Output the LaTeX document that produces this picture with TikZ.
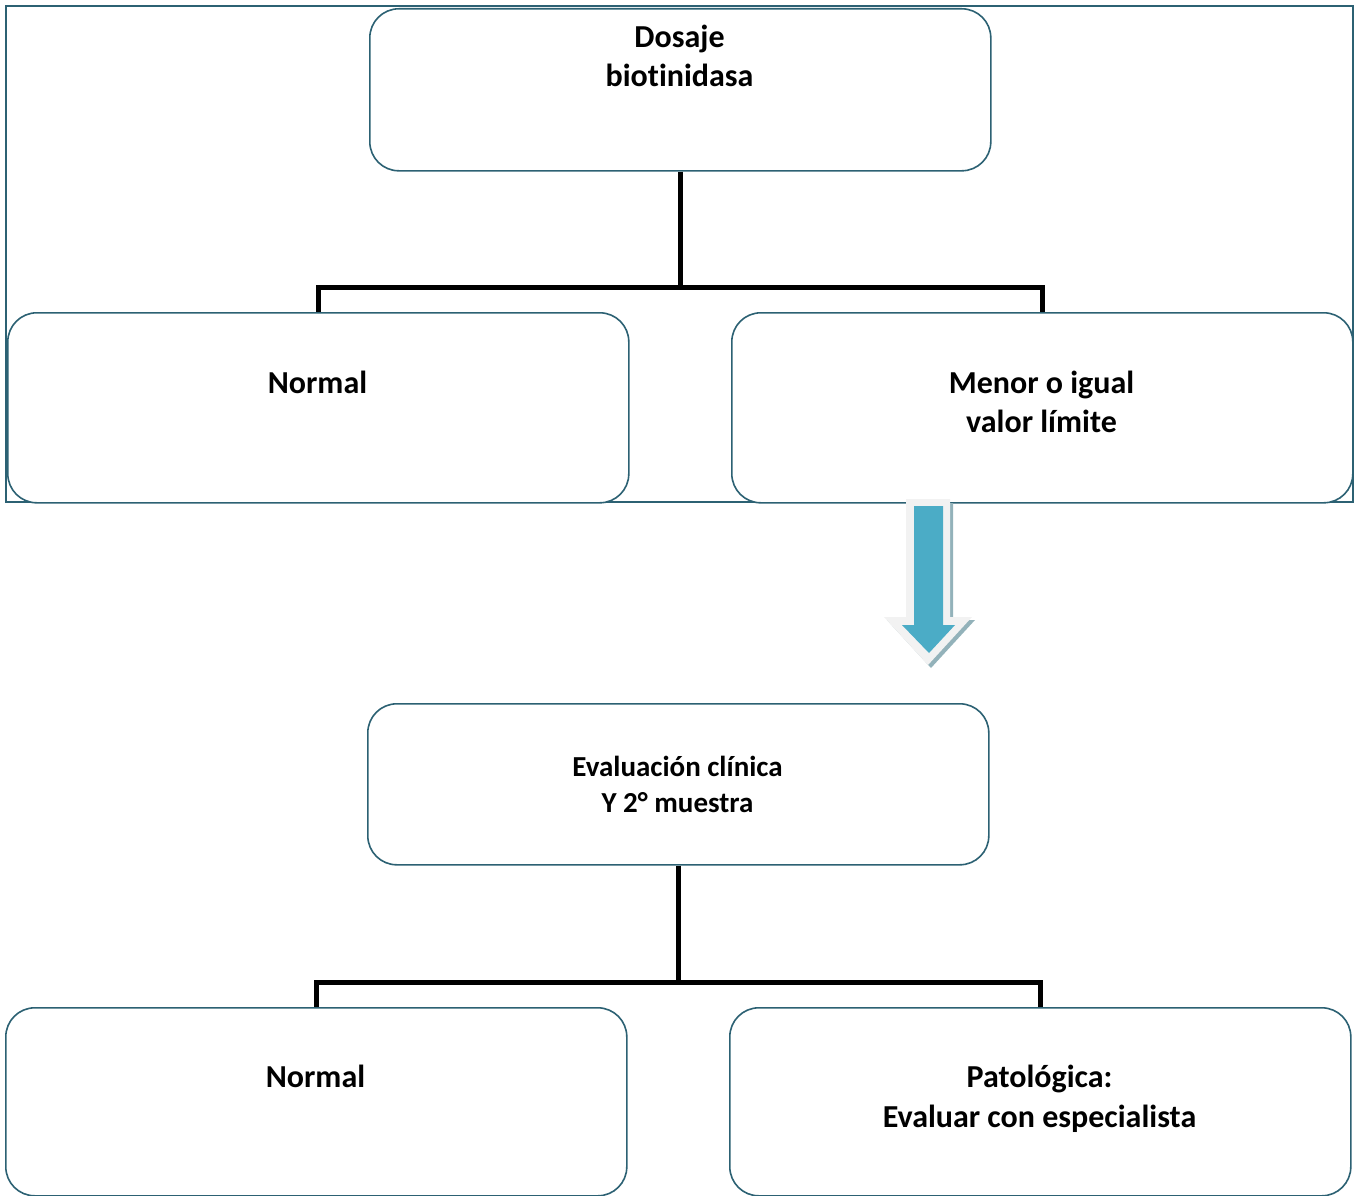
\documentclass[tikz,border=0pt]{standalone}
\usepackage{fontspec}
\setmainfont{Carlito}[Ligatures={NoCommon}]
\definecolor{boxline}{HTML}{2C6173}
\definecolor{arrowfill}{HTML}{4BACC6}
\definecolor{arrowrim}{HTML}{F2F2F2}
\definecolor{arrowshade}{HTML}{93B2BA}
\tikzset{
  card/.style={draw=boxline, line width=1.6pt, rounded corners=29pt, fill=white,
               inner sep=0pt, minimum width=621pt, anchor=north west},
  lbl/.style={anchor=base, inner sep=0pt, font=\bfseries\fontsize{32}{39}\selectfont},
  lblsm/.style={anchor=base, inner sep=0pt, font=\bfseries\fontsize{29}{36}\selectfont},
  conn/.style={draw=black, line width=5pt}
}
\begin{document}
\begin{tikzpicture}[x=1pt,y=-1pt]
\useasboundingbox (0,0) rectangle (1362,1196);

% frame around the first stage
\draw[boxline, line width=1.6pt] (6,6) rectangle (1353,502);

% first stage
\node[card, minimum height=162pt] (top) at (369,8) {};
\node[card, minimum height=190pt] (n1) at (7,312) {};
\node[card, minimum height=190pt] (m1) at (731,312) {};
\coordinate (j1) at (top.south |- 0,287);
\draw[conn] (top.south) -- (j1) -| (n1.north);
\draw[conn] (j1) -| (m1.north);
\node[lbl] (topa) at (679.5,48) {Dosaje};
\node[lbl] (topb) at (679.5,87) {biot\kern0pt inidasa};
\node[lbl] (n1a) at (317.5,393) {Normal};
\node[lbl] (m1a) at (1041.5,393) {Menor o igual};
\node[lbl] (m1b) at (1041.5,432) {valor límite};

% block arrow between the stages
\fill[arrowshade] (910,503) -- (953,503) -- (953,620) -- (975,620) -- (931,668) -- (887,620) -- (910,620) -- cycle;
\fill[arrowrim] (906,499) -- (950,499) -- (950,617) -- (972,617) -- (928,665) -- (884,617) -- (906,617) -- cycle;
\fill[arrowfill] (914,506) -- (943,506) -- (943,625) -- (955,625) -- (929,653) -- (902,625) -- (914,625) -- cycle;

% second stage
\node[card, minimum height=161pt] (ev) at (367,703) {};
\node[card, minimum height=188pt] (n2) at (5,1007) {};
\node[card, minimum height=188pt] (pt) at (729,1007) {};
\coordinate (j2) at (ev.south |- 0,982);
\draw[conn] (ev.south) -- (j2) -| (n2.north);
\draw[conn] (j2) -| (pt.north);
\node[lblsm] (eva) at (677.5,776) {Evaluación clínica};
\node[lblsm] (evb) at (677.5,812) {Y 2° muestra};
\node[lbl] (n2a) at (315.5,1087) {Normal};
\node[lbl] (pta) at (1039.5,1087) {Patológica:};
\node[lbl] (ptb) at (1039.5,1127) {Evaluar con especialista};
\end{tikzpicture}
\end{document}
